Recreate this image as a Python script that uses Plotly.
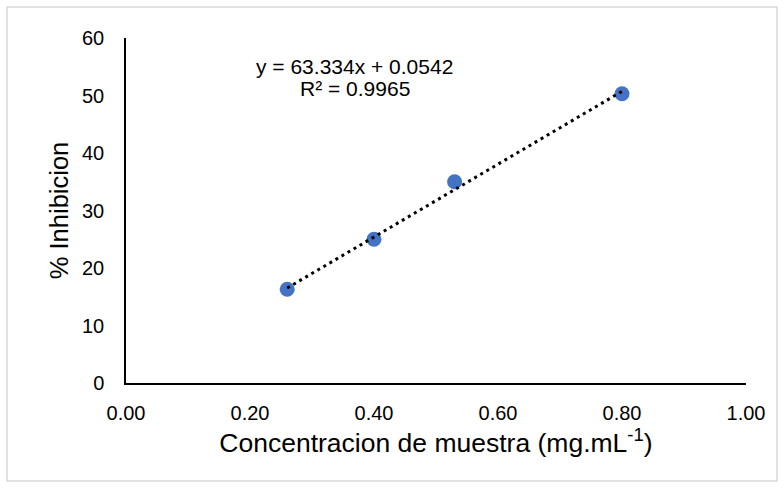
import plotly.graph_objects as go
import numpy as np

# Data
conc = [0.26, 0.40, 0.53, 0.80]
inhib = [16.3, 25.0, 35.0, 50.3]
slope = 63.334
intercept = 0.0542
eq_line1 = "y = 63.334x + 0.0542"
eq_line2 = "R² = 0.9965"
x_ticks = [0.0, 0.2, 0.4, 0.6, 0.8, 1.0]
x_tick_labels = ["0.00", "0.20", "0.40", "0.60", "0.80", "1.00"]
y_ticks = [0, 10, 20, 30, 40, 50, 60]

FONT = "Liberation Sans, Arial, sans-serif"

trend_x = np.array([min(conc), max(conc)])
trend_y = slope * trend_x + intercept

fig = go.Figure()
fig.add_trace(go.Scatter(
    x=conc, y=inhib, mode="markers",
    marker=dict(color="#4472C4", size=15, line=dict(width=0)),
    showlegend=False, hoverinfo="x+y"))
fig.add_trace(go.Scatter(
    x=trend_x, y=trend_y, mode="lines",
    line=dict(color="black", width=3, dash="3px,4px"),
    showlegend=False, hoverinfo="skip"))

L, R, T, B = 126, 38, 38, 105
W, H = 784, 488
pw, ph = W - L - R, H - T - B

fig.add_annotation(
    x=0.369, y=55.0, xref="x", yref="y", text=eq_line1, showarrow=False,
    font=dict(family=FONT, size=21, color="#000000"), align="center")
fig.add_annotation(
    x=0.369, y=51.3, xref="x", yref="y", text=eq_line2, showarrow=False,
    font=dict(family=FONT, size=21, color="#000000"), align="center")

# chart border (Excel chart area outline)
fig.add_shape(type="rect", xref="paper", yref="paper",
              x0=(7 - L) / pw, x1=(777 - L) / pw,
              y0=(H - B - 481) / ph, y1=(H - B - 7) / ph,
              line=dict(color="#D9D9D9", width=1.5), layer="below")

fig.update_layout(
    width=W, height=H, margin=dict(l=L, r=R, t=T, b=B),
    paper_bgcolor="white", plot_bgcolor="white",
    font=dict(family=FONT, color="#000000"),
    xaxis=dict(range=[0, 1], tickvals=x_ticks, ticktext=x_tick_labels,
               showgrid=False, zeroline=False, showline=True,
               linecolor="#000000", linewidth=1.5, ticks="",
               tickfont=dict(size=20, family=FONT), ticklabelstandoff=11,
               title=dict(text="Concentracion de muestra (mg.mL<sup>-1</sup>)",
                          font=dict(size=26.5, family=FONT), standoff=9)),
    yaxis=dict(range=[0, 60], tickvals=y_ticks,
               showgrid=False, zeroline=False, showline=True,
               linecolor="#000000", linewidth=1.5, ticks="",
               tickfont=dict(size=20, family=FONT), ticklabelstandoff=16,
               title=dict(text="% Inhibicion",
                          font=dict(size=25.5, family=FONT), standoff=6)),
)

fig.write_html("out.html")
